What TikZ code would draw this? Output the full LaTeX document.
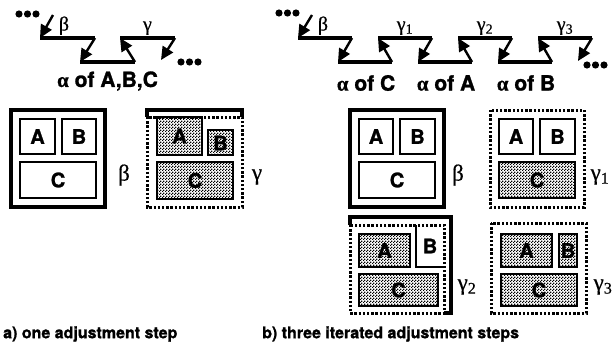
\documentclass[tikz,border=0pt]{standalone}
\usepackage{fontspec}
\setmainfont{TeX Gyre Heros}[BoldFeatures={FakeBold=1.2}]
\newfontfamily\grk{Liberation Serif}[FakeBold=0.6]
\usetikzlibrary{arrows.meta,patterns.meta}

% fine dot screen used for the adjusted (grey) regions
\tikzdeclarepattern{
  name=stipple, type=uncolored,
  bounding box={(0pt,0pt) and (3pt,3pt)},
  tile size={(3pt,3pt)},
  code={\fill (0pt,0pt) rectangle (1.5pt,1.5pt);
        \fill (1.5pt,1.5pt) rectangle (3pt,3pt);}
}

\tikzset{
  chainline/.style={line width=3.6pt},
  steparrow/.style={line width=2.4pt,-{Triangle[length=13pt,width=12pt]}},
  dotfill/.style={fill=black},
  outerbox/.style={draw,line width=3.2pt},
  dotbox/.style={draw,line width=3pt,dash pattern=on 2.4pt off 1.8pt},
  innerbox/.style={draw,line width=2.2pt},
  shaded/.style={innerbox,pattern=stipple},
  letter/.style={font=\fontsize{20}{20}\selectfont\bfseries,inner sep=0pt},
  grlab/.style={font=\fontsize{23}{23}\selectfont\grk,inner sep=0pt},
  chlab/.style={font=\fontsize{20}{20}\selectfont\grk,inner sep=0pt},
  alab/.style={font=\fontsize{21}{21}\selectfont\bfseries,inner sep=0pt},
  caption/.style={font=\fontsize{16}{16}\selectfont\bfseries,inner sep=0pt,anchor=west},
}

\begin{document}
\begin{tikzpicture}[x=1pt,y=-1pt]
\useasboundingbox (0,0) rectangle (614,351);

% ---------------- a) chain of one adjustment step ----------------
\foreach \cx in {19,27.5,36} \fill[dotfill] (\cx,14) circle (3.6);
\coordinate (lbs) at (53,15);
\coordinate (lb1) at (40,38);  \coordinate (lb2) at (95,38);
\coordinate (la1) at (80,62);  \coordinate (la2) at (135,62);
\coordinate (lg1) at (120,38); \coordinate (lg2) at (175,38);
\coordinate (lend) at (161,60);
\draw[chainline] (lb1) -- (lb2);
\draw[chainline] (la1) -- (la2);
\draw[chainline] (lg1) -- (lg2);
\draw[steparrow] (lbs) -- (lb1);
\draw[steparrow] (lb2) -- (la1);
\draw[steparrow] (la2) -- (lg1);
\draw[steparrow] (lg2) -- (lend);
\foreach \cx in {181,189.5,198} \fill[dotfill] (\cx,62) circle (3.6);
\node[chlab,anchor=south] (lbeta) at (64,35) {β};
\node[chlab,anchor=south] (lgam) at (147.5,35) {γ};
\node[alab] (labc) at (107.5,81) {{\grk α} of A,B,C};

% ---------------- b) chain of three iterated steps ----------------
\foreach \cx in {279,287.5,296} \fill[dotfill] (\cx,13) circle (3.6);
\coordinate (rbs) at (312,15);
\coordinate (rb1) at (298,38);  \coordinate (rb2) at (352,38);
\coordinate (rc1) at (338,62);  \coordinate (rc2) at (392,62);
\coordinate (rg1a) at (378,38); \coordinate (rg1b) at (432,38);
\coordinate (rd1) at (418,62);  \coordinate (rd2) at (472,62);
\coordinate (rg2a) at (458,38); \coordinate (rg2b) at (512,38);
\coordinate (re1) at (498,62);  \coordinate (re2) at (552,62);
\coordinate (rg3a) at (538,38); \coordinate (rg3b) at (592,38);
\coordinate (rend) at (578,61);
\foreach \p/\q in {rb1/rb2,rc1/rc2,rg1a/rg1b,rd1/rd2,rg2a/rg2b,re1/re2,rg3a/rg3b}
  \draw[chainline] (\p) -- (\q);
\foreach \p/\q in {rbs/rb1,rb2/rc1,rc2/rg1a,rg1b/rd1,rd2/rg2a,rg2b/re1,re2/rg3a,rg3b/rend}
  \draw[steparrow] (\p) -- (\q);
\foreach \cx in {587,595.5,604} \fill[dotfill] (\cx,65) circle (3.6);
\node[chlab,anchor=south] (rbeta) at (323,35) {β};
\node[chlab,anchor=south] (rgam1) at (405,35) {γ\textsubscript{1}};
\node[chlab,anchor=south] (rgam2) at (485,35) {γ\textsubscript{2}};
\node[chlab,anchor=south] (rgam3) at (565,35) {γ\textsubscript{3}};
\node[alab] (lc) at (366,83) {{\grk α} of C};
\node[alab] (la) at (446,83) {{\grk α} of A};
\node[alab] (lb) at (526,83) {{\grk α} of B};

% ---------------- a) boxes ----------------
% beta: initial layout
\draw[outerbox] (11,110) rectangle (105,207);
\draw[innerbox] (20,119) rectangle (55,154);
\draw[innerbox] (62,119) rectangle (96,154);
\draw[innerbox] (20,162) rectangle (96,198);
\node[letter] (aA) at (37.5,136.5) {A};
\node[letter] (aB) at (79,136.5) {B};
\node[letter] (aC) at (58,180) {C};
\node[grlab] (abeta) at (124,175) {β};
% gamma: after one step
\draw[outerbox] (147,117) -- (147,110) -- (242,110) -- (242,117);
\draw[dotbox] (147,117) rectangle (242,207);
\draw[shaded] (157,117) rectangle (202,155);
\draw[shaded] (208,130) rectangle (233,155);
\draw[shaded] (157,162) rectangle (233,199);
\node[letter] (gA) at (179.5,136) {A};
\node[letter] (gB) at (220.5,143) {B};
\node[letter] (gC) at (195,180.5) {C};
\node[grlab] (agam) at (257,177) {γ};

% ---------------- b) boxes ----------------
% beta
\draw[outerbox] (350,110) rectangle (444,207);
\draw[innerbox] (359,119) rectangle (393,154);
\draw[innerbox] (400,119) rectangle (435,154);
\draw[innerbox] (359,162) rectangle (435,198);
\node[letter] (bA) at (376,136.5) {A};
\node[letter] (bB) at (417.5,136.5) {B};
\node[letter] (bC) at (397,180) {C};
\node[grlab] (bbeta) at (458,175) {β};
% gamma1: C adjusted
\draw[dotbox] (490,110) rectangle (584,207);
\draw[innerbox] (499,119) rectangle (533,154);
\draw[innerbox] (540,119) rectangle (575,154);
\draw[shaded] (499,162) rectangle (575,198);
\node[letter] (c1A) at (516,136.5) {A};
\node[letter] (c1B) at (557.5,136.5) {B};
\node[letter] (c1C) at (537,180) {C};
\node[grlab] (bgam1) at (600,177) {γ\textsubscript{1}};
% gamma2: A adjusted
\draw[outerbox] (350,225) -- (350,217) -- (451,217) -- (451,313) -- (444,313);
\draw[dotbox] (350,225) rectangle (444,313);
\draw[shaded] (359,234) rectangle (410,267);
\draw[innerbox] (416,225) -- (416,267) -- (444,267);
\draw[shaded] (359,274) rectangle (438,306);
\node[letter] (c2A) at (384.5,250.5) {A};
\node[letter] (c2B) at (430,246) {B};
\node[letter] (c2C) at (398.5,290) {C};
\node[grlab] (bgam2) at (467,287) {γ\textsubscript{2}};
% gamma3: B adjusted
\draw[dotbox] (491,223) rectangle (586,313);
\draw[shaded] (501,234) rectangle (552,267);
\draw[shaded] (559,234) rectangle (577,267);
\draw[shaded] (501,274) rectangle (577,306);
\node[letter] (c3A) at (526.5,250.5) {A};
\node[letter] (c3B) at (568,250.5) {B};
\node[letter] (c3C) at (539,290) {C};
\node[grlab] (bgam3) at (603,287) {γ\textsubscript{3}};

% ---------------- captions ----------------
\node[caption] (capa) at (3,334) {a) one adjustment step};
\node[caption] (capb) at (262,334) {b) three iterated adjustment steps};
\end{tikzpicture}
\end{document}
